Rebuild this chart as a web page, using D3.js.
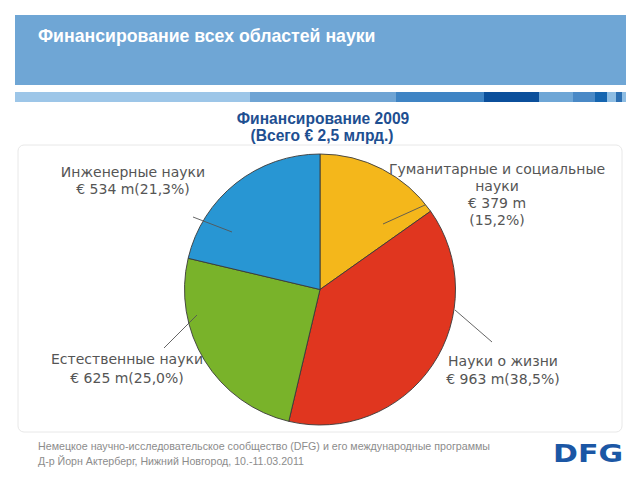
<!DOCTYPE html>
<html><head><meta charset="utf-8">
<script src="https://cdn.jsdelivr.net/npm/d3@7"></script>
<style>body{margin:0;background:#fff}svg{display:block}</style>
</head><body>
<script>
const categories = ["Гуманитарные и социальные науки", "Науки о жизни", "Естественные науки", "Инженерные науки"];
const amounts = [379, 963, 625, 534];
const shares = [15.2, 38.5, 25.0, 21.3];
const colors = ["#f4b71b", "#e0361f", "#79b32a", "#2896d3"];
const labelLines = [
  ["Гуманитарные и социальные", "науки", "€ 379 m", "(15,2%)"],
  ["Науки о жизни", "€ 963 m(38,5%)"],
  ["Естественные науки", "€ 625 m(25,0%)"],
  ["Инженерные науки", "€ 534 m(21,3%)"]
];
// label layout (annotation placement)
const labelLayout = [
  {x: 497, y: 174, lh: 17, line: [[425, 205], [383, 224]]},
  {x: 503, y: 366, lh: 18, line: [[492, 342], [455, 310]]},
  {x: 127, y: 364, lh: 19, line: [[164, 348], [197, 315]]},
  {x: 133, y: 177, lh: 17, line: [[193, 217], [232, 232]]}
];

const W = 640, H = 480;
const svg = d3.select("body").append("svg").attr("width", W).attr("height", H);

// header
svg.append("rect").attr("x", 15).attr("y", 15).attr("width", 611).attr("height", 70).attr("fill", "#6fa6d5");
svg.append("text").attr("x", 38).attr("y", 42).attr("fill", "#fff")
  .attr("font-family", "Liberation Sans, Arial, sans-serif").attr("font-weight", "bold").attr("font-size", 17.7)
  .text("Финансирование всех областей науки");

// stripe
const stripe = [[15, 250, "#9dc6e8"], [250, 396, "#6fa4d4"], [396, 484, "#3f84c4"], [484, 539, "#0b4f9b"],
  [539, 573, "#6ea6d6"], [573, 595, "#4a89c6"], [595, 607, "#1565b0"], [607, 616, "#8ebde3"], [616, 622, "#2c6fb2"], [622, 626, "#8ebde3"]];
svg.selectAll("rect.stripe").data(stripe).enter().append("rect").attr("class", "stripe")
  .attr("x", d => d[0]).attr("y", 92).attr("width", d => d[1] - d[0]).attr("height", 10).attr("fill", d => d[2]);

// subtitle
const sub = svg.append("g").attr("font-family", "Liberation Sans, Arial, sans-serif").attr("font-weight", "bold")
  .attr("font-size", 15.6).attr("fill", "#1e4f91").attr("text-anchor", "middle");
sub.append("text").attr("x", 323).attr("y", 124).text("Финансирование 2009");
sub.append("text").attr("x", 322).attr("y", 141).text("(Всего € 2,5 млрд.)");

// panel
svg.append("rect").attr("x", 18).attr("y", 145).attr("width", 604).attr("height", 287).attr("rx", 6)
  .attr("fill", "#fff").attr("stroke", "#e8e8e8");

// pie
const cx = 320, cy = 289.5, R = 135.5;
const pie = d3.pie().sort(null).value(d => d)(shares);
const arc = d3.arc().innerRadius(0).outerRadius(R);
const g = svg.append("g").attr("transform", `translate(${cx},${cy})`);
g.selectAll("path").data(pie).enter().append("path")
  .attr("d", arc).attr("fill", (d, i) => colors[i]).attr("stroke", "#3a3a3a").attr("stroke-width", 0.9);

// leader lines
svg.selectAll("line.lead").data(labelLayout).enter().append("line").attr("class", "lead")
  .attr("x1", d => d.line[0][0]).attr("y1", d => d.line[0][1])
  .attr("x2", d => d.line[1][0]).attr("y2", d => d.line[1][1])
  .attr("stroke", "#555").attr("stroke-width", 0.9);

// labels
labelLines.forEach((lines, i) => {
  const L = labelLayout[i];
  const t = svg.append("text").attr("font-family", "DejaVu Sans, Verdana, sans-serif").attr("font-size", 14)
    .attr("fill", "#555").attr("text-anchor", "middle");
  lines.forEach((s, j) => t.append("tspan").attr("x", L.x).attr("y", L.y + j * L.lh).text(s));
});

// footer
const ft = svg.append("g").attr("font-family", "Liberation Sans, Arial, sans-serif").attr("font-size", 10.5).attr("fill", "#8c8c8c");
ft.append("text").attr("x", 38).attr("y", 450).attr("textLength", 452).attr("lengthAdjust", "spacingAndGlyphs")
  .text("Немецкое научно-исследовательское сообщество (DFG) и его международные программы");
ft.append("text").attr("x", 38).attr("y", 465).attr("textLength", 266).attr("lengthAdjust", "spacingAndGlyphs")
  .text("Д-р Йорн Актерберг, Нижний Новгород, 10.-11.03.2011");

svg.append("text").attr("x", 553).attr("y", 462).attr("font-family", "DejaVu Sans, sans-serif").attr("font-weight", "bold")
  .attr("font-size", 25).attr("fill", "#1b57a5").attr("textLength", 70).attr("lengthAdjust", "spacingAndGlyphs").text("DFG");
</script>
</body></html>
